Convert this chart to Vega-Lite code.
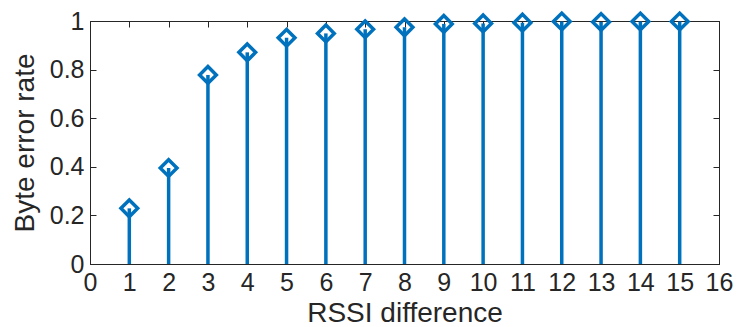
{
  "$schema": "https://vega.github.io/schema/vega-lite/v6.json",
  "width": 629,
  "height": 243,
  "autosize": {"type": "none"},
  "padding": {"left": 90, "top": 21, "right": 18, "bottom": 63},
  "background": "white",
  "config": {
    "view": {"stroke": "#262626", "strokeWidth": 1},
    "axis": {
      "grid": false,
      "domainColor": "#262626",
      "tickColor": "#262626",
      "labelColor": "#262626",
      "titleColor": "#262626",
      "labelFont": "Liberation Sans",
      "titleFont": "Liberation Sans",
      "labelFontSize": 25,
      "titleFontSize": 28,
      "titleFontWeight": "normal",
      "tickSize": -6,
      "labelPadding": 12
    }
  },
  "data": {
    "values": [
      {"x": 1, "y": 0.229},
      {"x": 2, "y": 0.395},
      {"x": 3, "y": 0.778},
      {"x": 4, "y": 0.871},
      {"x": 5, "y": 0.931},
      {"x": 6, "y": 0.949},
      {"x": 7, "y": 0.966},
      {"x": 8, "y": 0.974},
      {"x": 9, "y": 0.988},
      {"x": 10, "y": 0.99},
      {"x": 11, "y": 0.993},
      {"x": 12, "y": 0.998},
      {"x": 13, "y": 0.996},
      {"x": 14, "y": 0.998},
      {"x": 15, "y": 0.998}
    ]
  },
  "layer": [
    {
      "mark": {"type": "rule", "color": "#0072BD", "strokeWidth": 3.5},
      "encoding": {
        "x": {
          "field": "x", "type": "quantitative",
          "scale": {"domain": [0, 16], "nice": false, "zero": false},
          "axis": {
            "orient": "bottom",
            "values": [0,1,2,3,4,5,6,7,8,9,10,11,12,13,14,15,16],
            "title": "RSSI difference",
            "titlePadding": 0,
            "titleBaseline": "alphabetic",
            "titleY": 57,
            "labelFlush": false,
            "labelOverlap": false
          }
        },
        "y": {
          "field": "y", "type": "quantitative",
          "scale": {"domain": [0, 1], "nice": false},
          "axis": {
            "orient": "left",
            "values": [0, 0.2, 0.4, 0.6, 0.8, 1],
            "format": "~g",
            "title": "Byte error rate",
            "titleX": -57,
            "titleBaseline": "alphabetic",
            "labelFlush": false,
            "labelOverlap": false
          }
        },
        "y2": {"datum": 0}
      }
    },
    {
      "mark": {"type": "point", "shape": "diamond", "filled": false, "color": "#0072BD", "strokeWidth": 3.5, "size": 280, "opacity": 1},
      "encoding": {
        "x": {
          "field": "x", "type": "quantitative",
          "axis": {
            "orient": "top",
            "values": [0,1,2,3,4,5,6,7,8,9,10,11,12,13,14,15,16],
            "labels": false,
            "title": null
          }
        },
        "y": {
          "field": "y", "type": "quantitative",
          "axis": {
            "orient": "right",
            "values": [0, 0.2, 0.4, 0.6, 0.8, 1],
            "labels": false,
            "title": null
          }
        }
      }
    }
  ],
  "resolve": {"axis": {"x": "independent", "y": "independent"}}
}
